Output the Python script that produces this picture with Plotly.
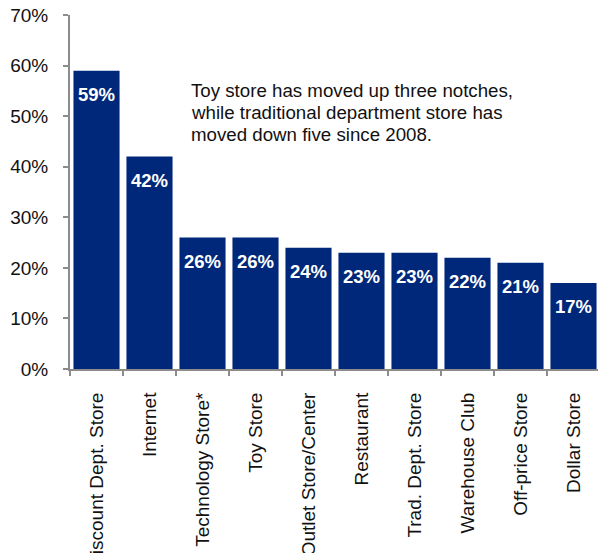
import plotly.graph_objects as go

categories = ["Discount Dept. Store", "Internet", "Technology Store*", "Toy Store",
              "Outlet Store/Center", "Restaurant", "Trad. Dept. Store", "Warehouse Club",
              "Off-price Store", "Dollar Store"]
values = [59, 42, 26, 26, 24, 23, 23, 22, 21, 17]
y_ticks = [0, 10, 20, 30, 40, 50, 60, 70]
note_lines = ["Toy store has moved up three notches,",
              "while traditional department store has",
              "moved down five since 2008."]

BAR = "#00287A"
FONT = "Liberation Sans, Arial, sans-serif"

fig = go.Figure(go.Bar(x=categories, y=values, marker=dict(color=BAR, line=dict(width=0)),
                       hoverinfo="skip"))

for c, v in zip(categories, values):
    fig.add_annotation(x=c, y=v, xref="x", yref="y", text=f"<b>{v}%</b>", showarrow=False,
                       yanchor="top", yshift=-11, font=dict(color="white", size=18.5, family=FONT))

for i, line in enumerate(note_lines):
    fig.add_annotation(x=0.2245, y=57.6, xref="paper", yref="y", text=line, showarrow=False,
                       xanchor="left", yanchor="top", align="left", yshift=-22 * i,
                       font=dict(size=18.7, color="#111111", family=FONT))

fig.update_layout(
    width=598, height=545,
    margin=dict(l=62, r=6, t=7, b=184),
    plot_bgcolor="white", paper_bgcolor="white",
    bargap=0.13, showlegend=False,
    font=dict(family=FONT, size=19, color="#111111"),
)
fig.update_xaxes(showline=True, linecolor="#8c8c8c", linewidth=2, ticks="outside",
                 ticklen=5, tickcolor="#8c8c8c", tickwidth=2, tickson="boundaries",
                 tickangle=-90, showgrid=False, automargin=False, ticklabelstandoff=14,
                 ticklabeloverflow="allow",
                 tickfont=dict(size=19, family=FONT, color="#111111"))
fig.update_yaxes(range=[0, 70], tickvals=y_ticks, ticktext=[f"{t}%" for t in y_ticks],
                 showline=True, linecolor="#8c8c8c", linewidth=2, ticks="outside",
                 ticklen=5, tickcolor="#8c8c8c", tickwidth=2, showgrid=False, zeroline=False,
                 automargin=False, ticklabelstandoff=11, ticklabeloverflow="allow",
                 tickfont=dict(size=19, family=FONT, color="#111111"))

fig.write_html("out.html")
